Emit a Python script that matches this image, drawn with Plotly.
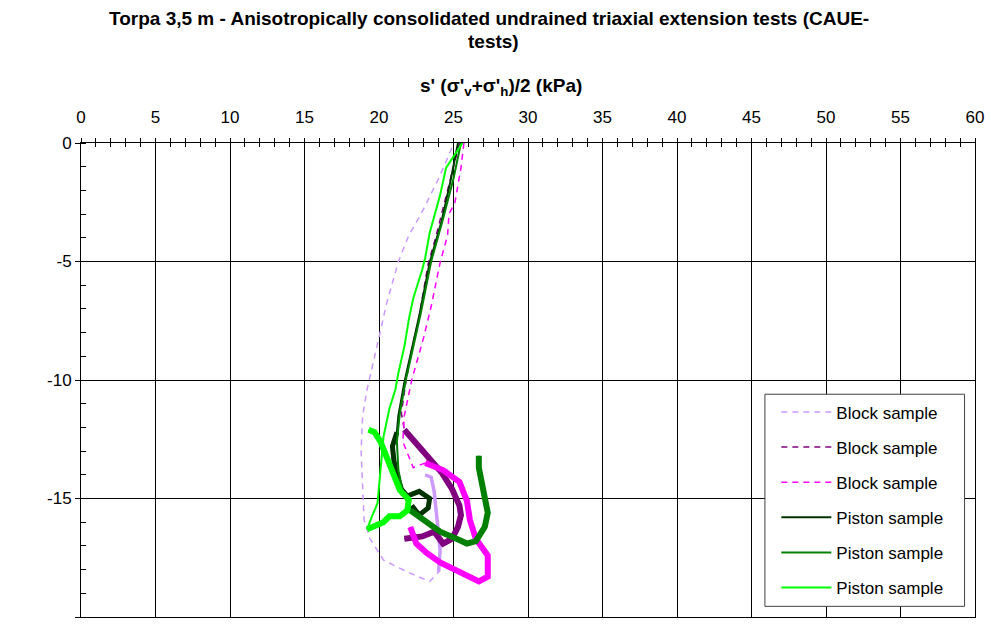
import plotly.graph_objects as go

# stress paths: s' (kPa) and t (kPa)
BLOCK1_S = [24.9, 24.0, 22.9, 22.0, 21.3, 20.5, 20.0, 19.5, 19.2, 18.9, 18.8, 18.9,
            19.0, 19.4, 20.3, 21.9, 23.4, 24.0, 24.1, 23.9, 23.7, 23.5, 23.1]
BLOCK1_T = [-0.2, -1.5, -2.9, -3.9, -5.0, -6.8, -8.2, -9.6, -10.4, -11.5, -13.0, -14.5,
            -15.9, -16.7, -17.6, -18.1, -18.5, -18.1, -17.2, -15.9, -14.7, -14.1, -14.0]

BLOCK2_S = [25.4, 24.6, 23.8, 23.3, 22.7, 22.2, 21.8, 21.5, 21.7, 22.5, 23.3, 24.2,
            24.9, 25.4, 25.5, 25.3, 24.9, 24.3, 23.7, 22.9, 21.7]
BLOCK2_T = [0.0, -2.0, -4.0, -5.1, -7.3, -8.7, -10.1, -11.4, -12.1, -12.7, -13.3, -13.9,
            -14.6, -15.3, -15.7, -16.2, -16.7, -16.9, -16.4, -16.6, -16.7]

BLOCK3_S = [25.7, 25.5, 25.1, 24.7, 24.6, 24.1, 23.5, 23.0, 22.2, 21.7, 21.6, 22.3,
            23.1, 24.3, 25.4, 25.9, 26.1, 26.5, 27.3, 27.3, 26.7, 25.4, 24.1, 23.2,
            22.5, 22.1]
BLOCK3_T = [0.0, -1.05, -2.5, -3.0, -3.9, -5.05, -6.9, -8.2, -10.0, -11.5, -12.6, -13.7,
            -13.5, -13.8, -14.3, -15.1, -15.9, -16.7, -17.4, -18.3, -18.5, -18.1, -17.7,
            -17.3, -16.9, -16.2]

PISTON1_S = [25.3, 24.8, 24.2, 23.4, 22.7, 22.2, 21.7, 21.3, 21.2, 20.9, 21.0, 21.2,
             21.5, 21.9, 22.7, 23.4, 23.3, 22.7, 22.2]
PISTON1_T = [0.0, -1.6, -3.3, -5.05, -7.3, -8.7, -10.1, -11.5, -12.2, -12.8, -13.4, -14.0,
             -14.6, -14.9, -14.7, -15.0, -15.4, -15.7, -15.3]

PISTON2_S = [25.5, 25.0, 24.3, 23.5, 22.8, 22.3, 21.8, 21.4, 21.2, 21.3, 21.6, 22.1,
             23.0, 24.1, 25.2, 25.9, 26.5, 27.1, 27.3, 27.1, 26.9, 26.7, 26.7]
PISTON2_T = [0.0, -1.5, -3.2, -5.0, -7.2, -8.6, -10.0, -11.4, -12.6, -13.8, -14.7, -15.5,
             -15.9, -16.4, -16.7, -16.9, -16.8, -16.2, -15.6, -15.0, -14.4, -13.7, -13.2]

PISTON3_S = [25.6, 24.5, 24.1, 23.7, 23.4, 23.1, 22.9, 22.3, 22.0, 21.7, 21.3, 21.1,
             20.7, 20.3, 20.1, 19.9, 19.5, 19.2, 20.3, 20.7, 21.4, 21.9, 22.0, 21.4,
             21.0, 20.5, 20.1, 19.7, 19.3]
PISTON3_T = [0.0, -1.05, -2.2, -3.1, -3.8, -4.85, -5.35, -6.55, -7.45, -8.6, -9.7, -10.4,
             -11.2, -12.4, -14.0, -15.2, -15.8, -16.3, -16.0, -15.75, -15.75, -15.5,
             -15.05, -14.65, -14.05, -13.35, -12.6, -12.2, -12.1]

X_TICKS = list(range(0, 61, 5))
Y_TICKS = [0, -5, -10, -15, -20]
Y_TICK_TEXT = ['0', '-5', '-10', '-15', '-20']

FONT = 'Liberation Sans, Arial, sans-serif'

# name, s, t, colour, dash, thin width, start of the thick (wiggly) part, thick width
SERIES = [
    ('Block sample', BLOCK1_S, BLOCK1_T, '#CC99FF', '6px,5px', 1.5, 17, 3.5),
    ('Block sample', BLOCK2_S, BLOCK2_T, '#800080', '6px,5px', 1.5, 8, 6),
    ('Block sample', BLOCK3_S, BLOCK3_T, '#FF00FF', '6px,5px', 1.5, 12, 6),
    ('Piston sample', PISTON1_S, PISTON1_T, '#003300', 'solid', 2, 8, 5),
    ('Piston sample', PISTON2_S, PISTON2_T, '#008000', 'solid', 2, 11, 6),
    ('Piston sample', PISTON3_S, PISTON3_T, '#00FF00', 'solid', 2, 17, 6),
]

fig = go.Figure()

for i, (name, s, t, color, dash, w, k, wk) in enumerate(SERIES):
    fig.add_trace(go.Scatter(
        x=s[k:], y=t[k:], mode='lines', showlegend=False, legendgroup=f'g{i}',
        line=dict(color=color, width=wk), hoverinfo='skip'
    ))
    fig.add_trace(go.Scatter(
        x=s, y=t, mode='lines', name=name, legendgroup=f'g{i}',
        line=dict(color=color, width=w, dash=dash),
        hovertemplate="s'=%{x}<br>t=%{y}<extra></extra>"
    ))

# empty trace so the overlaid top axis (inner halves of the ticks) gets drawn
fig.add_trace(go.Scatter(x=[], y=[], xaxis='x2', showlegend=False))

bold = dict(size=19, family=FONT, weight='bold')

fig.update_layout(
    width=991, height=625,
    paper_bgcolor='white', plot_bgcolor='white',
    font=dict(family=FONT, color='black', size=17),
    margin=dict(l=81, r=10, t=143, b=7),
    xaxis=dict(
        side='top', range=[0, 60], tickvals=X_TICKS, ticks='outside', ticklen=4,
        tickcolor='black', showgrid=True, gridcolor='black', gridwidth=1,
        showline=True, linecolor='black', mirror=True, zeroline=False,
        ticklabelstandoff=8,
        minor=dict(dtick=1, ticks='outside', ticklen=4, tickcolor='black', showgrid=False),
    ),
    xaxis2=dict(
        overlaying='x', matches='x', side='top', anchor='y', range=[0, 60],
        tickvals=X_TICKS, ticks='inside', ticklen=4, tickcolor='black',
        showticklabels=False, showgrid=False, zeroline=False,
        minor=dict(dtick=1, ticks='inside', ticklen=4, tickcolor='black', showgrid=False),
    ),
    yaxis=dict(
        range=[-20, 0], tickvals=Y_TICKS, ticktext=Y_TICK_TEXT, ticks='outside', ticklen=5,
        tickcolor='black', showgrid=True, gridcolor='black', gridwidth=1,
        showline=True, linecolor='black', mirror=True, zeroline=False,
        minor=dict(dtick=1, ticks='inside', ticklen=5, tickcolor='black', showgrid=False),
    ),
    legend=dict(
        x=(781 - 81) / 900, y=(618 - 395) / 475, xanchor='left', yanchor='top',
        bgcolor='rgba(0,0,0,0)', borderwidth=0,
        font=dict(size=17, family=FONT), tracegroupgap=10, traceorder='grouped',
        itemwidth=50,
    ),
    # legend frame, drawn in data units so it lines up with the grid
    shapes=[dict(type='rect', xref='x', yref='y', x0=45.9, x1=59.3, y0=-10.6, y1=-19.55,
                 fillcolor='white', line=dict(color='#404040', width=1), layer='above')],
    annotations=[
        dict(text='Torpa 3,5 m - Anisotropically consolidated undrained triaxial extension tests (CAUE-',
             xref='x', yref='paper', x=27.4, y=(618 - 18) / 475, xanchor='center',
             yanchor='middle', showarrow=False, font=bold),
        dict(text='tests)', xref='x', yref='paper', x=27.7, y=(618 - 41) / 475,
             xanchor='center', yanchor='middle', showarrow=False, font=bold),
        dict(text="s' (σ'<sub>v</sub>+σ'<sub>h</sub>)/2 (kPa)", xref='x', yref='paper',
             x=28.2, y=(618 - 87) / 475, xanchor='center', yanchor='middle',
             showarrow=False, font=bold),
        dict(text='t = (σ<sub>v</sub>-σ<sub>h</sub>)/2 (kPa)', xref='x', yref='paper',
             x=-3.95, y=(618 - 378) / 475, xanchor='center', yanchor='middle',
             textangle=-90, showarrow=False, font=bold),
    ],
)

fig.write_html(
    "out.html", config={'displayModeBar': False},
    post_script="document.body.style.margin='0';"
                "document.body.style.overflow='hidden';"
                "document.documentElement.style.overflow='hidden';"
)
